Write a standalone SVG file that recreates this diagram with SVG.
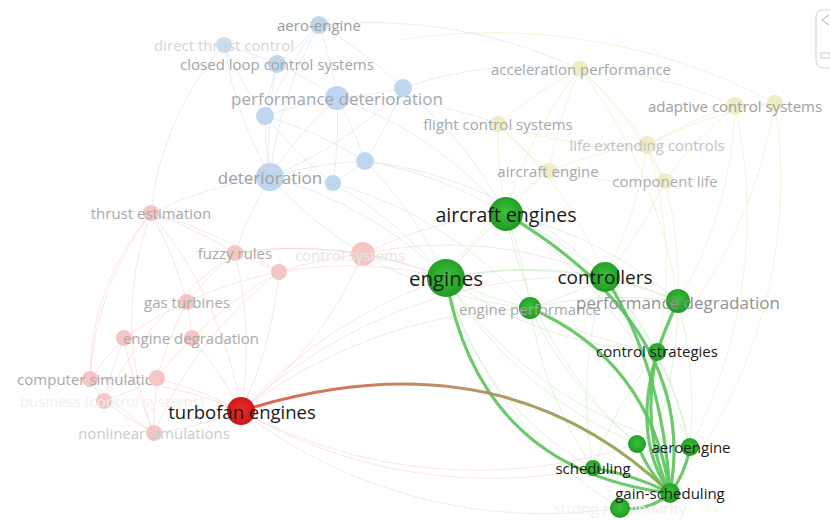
<svg xmlns="http://www.w3.org/2000/svg" width="830" height="520" viewBox="0 0 830 520">
<style>
text{font-family:"Open Sans","DejaVu Sans",sans-serif;font-size:15px;text-anchor:middle;dominant-baseline:central}
.e path{fill:none;stroke-width:1}
.eb path{stroke:#bcd4ec;opacity:.4}
.er path{stroke:#f2b4b4;opacity:.35}
.ey path{stroke:#e6e4a8;opacity:.45}
.eg path{stroke:#a6dc9c;opacity:.35}
.hl path{fill:none;stroke:#5cc45c;stroke-width:3.2;opacity:.9}
.nb{fill:#bfd6ee}
.nr{fill:#f5c6c6}
.ny{fill:#efedc4}
.ng{fill:url(#gg)}
.dk{fill:#1a1a1a}
</style>
<defs>
<radialGradient id="gg" cx="50%" cy="45%" r="55%">
<stop offset="0" stop-color="#3cc03c"/>
<stop offset="1" stop-color="#1f9a22"/>
</radialGradient>
<radialGradient id="rg" cx="50%" cy="45%" r="55%">
<stop offset="0" stop-color="#ee2a2a"/>
<stop offset="1" stop-color="#c81818"/>
</radialGradient>
<linearGradient id="tg" gradientUnits="userSpaceOnUse" x1="241" y1="411" x2="670" y2="493">
<stop offset="0" stop-color="#e05040"/>
<stop offset="0.5" stop-color="#b08a58"/>
<stop offset="1" stop-color="#7fa848"/>
</linearGradient>
</defs>
<rect width="830" height="520" fill="#ffffff"/>

<g id="connectors">
<g class="e eb">
<path d="M319 25 A400 400 0 0 1 277 64"/>
<path d="M319 25 A400 400 0 0 1 337 98"/>
<path d="M319 25 A400 400 0 0 0 265 116"/>
<path d="M319 25 A400 400 0 0 0 270 177"/>
<path d="M224 45 A400 400 0 0 1 277 64"/>
<path d="M224 45 A400 400 0 0 0 265 116"/>
<path d="M224 45 A400 400 0 0 0 270 177"/>
<path d="M277 64 A400 400 0 0 1 337 98"/>
<path d="M277 64 A400 400 0 0 0 270 177"/>
<path d="M337 98 A400 400 0 0 0 403 88"/>
<path d="M337 98 A400 400 0 0 0 265 116"/>
<path d="M337 98 A400 400 0 0 0 270 177"/>
<path d="M337 98 A400 400 0 0 1 365 161"/>
<path d="M337 98 A400 400 0 0 1 333 183"/>
<path d="M403 88 A400 400 0 0 1 365 161"/>
<path d="M403 88 A400 400 0 0 1 270 177"/>
<path d="M319 25 A400 400 0 0 1 403 88"/>
<path d="M277 64 A400 400 0 0 0 265 116"/>
<path d="M265 116 A400 400 0 0 0 270 177"/>
<path d="M265 116 A400 400 0 0 0 333 183"/>
<path d="M270 177 A400 400 0 0 1 365 161"/>
<path d="M270 177 A400 400 0 0 0 333 183"/>
<path d="M365 161 A400 400 0 0 1 333 183"/>
<path d="M270 177 A400 400 0 0 0 363 254"/>
<path d="M270 177 A400 400 0 0 0 235 253"/>
<path d="M270 177 A400 400 0 0 0 151 213"/>
<path d="M337 98 A400 400 0 0 1 506 214"/>
<path d="M403 88 A400 400 0 0 1 506 214"/>
<path d="M365 161 A400 400 0 0 1 446 278"/>
<path d="M270 177 A400 400 0 0 1 446 278"/>
<path d="M333 183 A400 400 0 0 1 446 278"/>
<path d="M337 98 A400 400 0 0 1 498 124"/>
<path d="M403 88 A400 400 0 0 1 580 69"/>
<path d="M224 45 A300 300 0 0 0 151 213"/>
<path d="M319 25 A500 500 0 0 1 580 69"/>
<path d="M365 161 A400 400 0 0 1 605 277"/>
<path d="M333 183 A400 400 0 0 1 530 308"/>
<path d="M265 116 A400 400 0 0 1 365 161"/>
</g>
<g class="e er">
<path d="M151 213 A400 400 0 0 1 235 253"/>
<path d="M151 213 A400 400 0 0 1 187 302"/>
<path d="M151 213 A300 300 0 0 0 90 379"/>
<path d="M151 213 A400 400 0 0 1 241 411"/>
<path d="M151 213 A400 400 0 0 1 279 272"/>
<path d="M151 213 A300 300 0 0 0 154 433"/>
<path d="M235 253 A400 400 0 0 1 279 272"/>
<path d="M235 253 A400 400 0 0 1 363 254"/>
<path d="M235 253 A400 400 0 0 0 187 302"/>
<path d="M235 253 A400 400 0 0 1 241 411"/>
<path d="M279 272 A400 400 0 0 1 363 254"/>
<path d="M279 272 A400 400 0 0 0 187 302"/>
<path d="M279 272 A400 400 0 0 0 192 338"/>
<path d="M279 272 A400 400 0 0 1 241 411"/>
<path d="M363 254 A400 400 0 0 1 241 411"/>
<path d="M363 254 A400 400 0 0 1 446 278"/>
<path d="M363 254 A400 400 0 0 1 506 214"/>
<path d="M363 254 A400 400 0 0 1 605 277"/>
<path d="M187 302 A400 400 0 0 1 192 338"/>
<path d="M187 302 A400 400 0 0 0 124 338"/>
<path d="M187 302 A400 400 0 0 0 157 378"/>
<path d="M124 338 A400 400 0 0 1 192 338"/>
<path d="M124 338 A400 400 0 0 0 90 379"/>
<path d="M124 338 A400 400 0 0 0 104 401"/>
<path d="M124 338 A400 400 0 0 0 154 433"/>
<path d="M192 338 A400 400 0 0 0 157 378"/>
<path d="M192 338 A400 400 0 0 1 241 411"/>
<path d="M90 379 A400 400 0 0 1 157 378"/>
<path d="M90 379 A400 400 0 0 0 104 401"/>
<path d="M90 379 A400 400 0 0 0 154 433"/>
<path d="M90 379 A400 400 0 0 1 241 411"/>
<path d="M157 378 A400 400 0 0 1 104 401"/>
<path d="M157 378 A400 400 0 0 1 241 411"/>
<path d="M157 378 A400 400 0 0 0 154 433"/>
<path d="M104 401 A400 400 0 0 0 154 433"/>
<path d="M154 433 A400 400 0 0 0 241 411"/>
<path d="M241 411 A500 500 0 0 1 446 278"/>
<path d="M241 411 A500 500 0 0 1 530 308"/>
<path d="M241 411 A500 500 0 0 0 593 468"/>
<path d="M241 411 A500 500 0 0 0 620 508"/>
<path d="M241 411 A500 500 0 0 1 605 277"/>
<path d="M235 253 A400 400 0 0 1 446 278"/>
<path d="M279 272 A400 400 0 0 1 446 278"/>
<path d="M241 411 A500 500 0 0 0 637 444"/>
<path d="M90 379 A250 250 0 0 1 151 213"/>
<path d="M104 401 A400 400 0 0 1 235 253"/>
<path d="M154 433 A400 400 0 0 1 279 272"/>
</g>
<g class="e ey">
<path d="M580 69 A400 400 0 0 0 498 124"/>
<path d="M580 69 A400 400 0 0 1 647 145"/>
<path d="M580 69 A400 400 0 0 0 549 171"/>
<path d="M580 69 A400 400 0 0 1 735 106"/>
<path d="M580 69 A400 400 0 0 1 665 181"/>
<path d="M735 106 A400 400 0 0 1 775 103"/>
<path d="M735 106 A400 400 0 0 0 647 145"/>
<path d="M735 106 A400 400 0 0 0 665 181"/>
<path d="M775 103 A400 400 0 0 0 647 145"/>
<path d="M498 124 A400 400 0 0 0 647 145"/>
<path d="M498 124 A400 400 0 0 0 549 171"/>
<path d="M647 145 A400 400 0 0 0 549 171"/>
<path d="M647 145 A400 400 0 0 1 665 181"/>
<path d="M549 171 A400 400 0 0 0 665 181"/>
<path d="M498 124 A400 400 0 0 0 506 214"/>
<path d="M549 171 A400 400 0 0 0 506 214"/>
<path d="M647 145 A400 400 0 0 1 605 277"/>
<path d="M665 181 A400 400 0 0 1 605 277"/>
<path d="M665 181 A400 400 0 0 1 678 301"/>
<path d="M735 106 A400 400 0 0 1 678 301"/>
<path d="M775 103 A500 500 0 0 1 670 493"/>
<path d="M647 145 A400 400 0 0 1 657 352"/>
<path d="M549 171 A400 400 0 0 0 446 278"/>
<path d="M580 69 A400 400 0 0 0 506 214"/>
<path d="M735 106 A500 500 0 0 1 690 447"/>
<path d="M580 69 A500 500 0 0 1 678 301"/>
<path d="M498 124 A400 400 0 0 1 605 277"/>
<path d="M775 103 A500 500 0 0 1 657 352"/>
<path d="M400 40 A600 600 0 0 1 775 103"/>
</g>
<g class="e eg">
<path d="M506 214 A400 400 0 0 0 446 278"/>
<path d="M506 214 A400 400 0 0 1 605 277"/>
<path d="M506 214 A400 400 0 0 1 530 308"/>
<path d="M446 278 A400 400 0 0 1 605 277"/>
<path d="M446 278 A400 400 0 0 0 530 308"/>
<path d="M605 277 A400 400 0 0 1 530 308"/>
<path d="M605 277 A400 400 0 0 1 678 301"/>
<path d="M530 308 A400 400 0 0 1 678 301"/>
<path d="M446 278 A400 400 0 0 1 678 301"/>
<path d="M678 301 A400 400 0 0 1 657 352"/>
<path d="M605 277 A400 400 0 0 1 657 352"/>
<path d="M530 308 A400 400 0 0 0 657 352"/>
<path d="M446 278 A400 400 0 0 0 657 352"/>
<path d="M506 214 A400 400 0 0 1 678 301"/>
<path d="M446 278 A400 400 0 0 0 690 447"/>
<path d="M605 277 A400 400 0 0 1 690 447"/>
<path d="M530 308 A400 400 0 0 0 593 468"/>
<path d="M657 352 A400 400 0 0 1 690 447"/>
<path d="M446 278 A400 400 0 0 0 620 508"/>
<path d="M530 308 A400 400 0 0 0 637 444"/>
<path d="M678 301 A400 400 0 0 1 690 447"/>
<path d="M506 214 A400 400 0 0 0 637 444"/>
<path d="M446 278 A400 400 0 0 0 637 444"/>
<path d="M605 277 A400 400 0 0 0 593 468"/>
<path d="M678 301 A400 400 0 0 1 620 508"/>
<path d="M506 214 A500 500 0 0 1 690 447"/>
<path d="M363 254 A400 400 0 0 0 530 308"/>
<path d="M365 161 A400 400 0 0 1 506 214"/>
<path d="M446 278 A300 300 0 0 0 593 468"/>
<path d="M657 352 A400 400 0 0 0 593 468"/>
</g>
<g class="hl">
<path d="M506 214 Q700 330 670 493"/>
<path d="M605 277 Q662 365 670 493"/>
<path d="M530 308 Q650 360 670 493"/>
<path d="M446 278 Q480 470 670 493"/>
<path d="M678 301 Q620 420 670 493"/>
<path d="M657 352 Q640 430 670 493"/>
<path d="M637 444 Q650 475 670 493"/>
<path d="M690 447 Q685 475 670 493"/>
<path d="M593 468 Q635 475 670 493"/>
<path d="M620 508 Q650 512 670 493"/>
</g>
<path d="M241 411 Q500 330 670 493" fill="none" stroke="url(#tg)" stroke-width="3" opacity="0.9"/>
</g>

<g id="n-direct-thrust-control"><circle class="nb" cx="224" cy="45" r="8" opacity=".8"/><text x="224" y="45" fill="#d4d4d4">direct thrust control</text></g>
<g id="n-aero-engine"><circle class="nb" cx="319" cy="25" r="9"/><text x="319" y="25" fill="#9c9c9c">aero-engine</text></g>
<g id="n-closed-loop"><circle class="nb" cx="277" cy="64" r="9"/><text x="277" y="64" fill="#a4a4a4">closed loop control systems</text></g>
<g id="n-performance-deterioration"><circle class="nb" cx="337" cy="98" r="12"/><text x="337" y="98" fill="#a4a8ac" style="font-size:17px">performance deterioration</text></g>
<g id="n-b5"><circle class="nb" cx="403" cy="88" r="9"/></g>
<g id="n-b6"><circle class="nb" cx="265" cy="116" r="9"/></g>
<g id="n-b8"><circle class="nb" cx="365" cy="161" r="9"/></g>
<g id="n-b9"><circle class="nb" cx="333" cy="183" r="8"/></g>
<g id="n-deterioration"><circle class="nb" cx="270" cy="177" r="14"/><text x="270" y="177" fill="#a0a0a0" style="font-size:17px">deterioration</text></g>

<g id="n-thrust-estimation"><circle class="nr" cx="151" cy="213" r="8"/><text x="151" y="213" fill="#a8a8a8">thrust estimation</text></g>
<g id="n-fuzzy-rules"><circle class="nr" cx="235" cy="253" r="8"/><text x="235" y="253" fill="#a8a8a8">fuzzy rules</text></g>
<g id="n-r3"><circle class="nr" cx="279" cy="272" r="8"/></g>
<g id="n-control-systems"><circle class="nr" cx="363" cy="254" r="12"/><text x="350" y="255" fill="#e6e6e6">control systems</text></g>
<g id="n-gas-turbines"><circle class="nr" cx="187" cy="302" r="8"/><text x="187" y="302" fill="#aaaaaa">gas turbines</text></g>
<g id="n-r6"><circle class="nr" cx="124" cy="338" r="8"/></g>
<g id="n-engine-degradation"><circle class="nr" cx="192" cy="338" r="8"/><text x="191" y="338" fill="#aaaaaa">engine degradation</text></g>
<g id="n-computer-simulation"><circle class="nr" cx="90" cy="379" r="8"/><text x="90" y="379" fill="#a8a8a8">computer simulation</text></g>
<g id="n-r9"><circle class="nr" cx="157" cy="378" r="8"/></g>
<g id="n-business"><circle class="nr" cx="104" cy="401" r="8"/><text x="112" y="401" fill="#f0f0f0">business (control systems)</text></g>
<g id="n-nonlinear-simulations"><circle class="nr" cx="154" cy="433" r="8"/><text x="154" y="433" fill="#cacaca">nonlinear simulations</text></g>

<g id="n-acceleration-performance"><circle class="ny" cx="580" cy="69" r="8"/><text x="581" y="69" fill="#a8a8a8">acceleration performance</text></g>
<g id="n-adaptive-control-systems"><circle class="ny" cx="735" cy="106" r="9"/><circle class="ny" cx="775" cy="103" r="8"/><text x="735" y="106" fill="#a0a0a0">adaptive control systems</text></g>
<g id="n-flight-control-systems"><circle class="ny" cx="498" cy="124" r="8"/><text x="498" y="124" fill="#a8a8a8">flight control systems</text></g>
<g id="n-life-extending-controls"><circle class="ny" cx="647" cy="145" r="9"/><text x="647" y="145" fill="#c2c2c2">life extending controls</text></g>
<g id="n-aircraft-engine"><circle class="ny" cx="549" cy="171" r="8"/><text x="548" y="171" fill="#a8a8a8">aircraft engine</text></g>
<g id="n-component-life"><circle class="ny" cx="665" cy="181" r="8"/><text x="665" y="181" fill="#adadad">component life</text></g>

<g id="n-strong-nonlinearity"><text x="620" y="508" fill="#f0f0f0">strong nonlinearity</text><circle class="ng" cx="620" cy="508" r="10"/></g>
<g id="n-engine-performance"><circle class="ng" cx="530" cy="308" r="11"/><text x="530" y="309" fill="#a8a8a8">engine performance</text></g>
<g id="n-performance-degradation"><circle class="ng" cx="678" cy="301" r="12"/><text x="678" y="302" fill="#929292" style="font-size:17px">performance degradation</text></g>
<g id="n-aircraft-engines"><circle class="ng" cx="506" cy="214" r="17"/><text class="dk" x="506" y="214" style="font-size:19.5px">aircraft engines</text></g>
<g id="n-engines"><circle class="ng" cx="446" cy="278" r="19"/><text class="dk" x="446" y="278" style="font-size:20.5px">engines</text></g>
<g id="n-controllers"><circle class="ng" cx="605" cy="277" r="15"/><text class="dk" x="605" y="277" style="font-size:19px">controllers</text></g>
<g id="n-control-strategies"><circle class="ng" cx="657" cy="352" r="9"/><text class="dk" x="657" y="351">control strategies</text></g>
<g id="n-g7"><circle class="ng" cx="637" cy="444" r="9"/></g>
<g id="n-aeroengine"><circle class="ng" cx="690" cy="447" r="9"/><text class="dk" x="691" y="447">aeroengine</text></g>
<g id="n-scheduling"><circle class="ng" cx="593" cy="468" r="8"/><text class="dk" x="593" y="468">scheduling</text></g>
<g id="n-gain-scheduling"><circle class="ng" cx="670" cy="493" r="10"/><text class="dk" x="670" y="493">gain-scheduling</text></g>
<g id="n-turbofan-engines"><circle cx="241" cy="411" r="14" fill="url(#rg)"/><text class="dk" x="242" y="411" style="font-size:18.5px">turbofan engines</text></g>

<g id="widget" fill="none" stroke="#d8d8d8" stroke-width="1.2">
<path d="M832 10 H823 Q816 10 816 17 V60 Q816 68 824 68 H832"/>
<polyline points="829,15 822,20 829,25" stroke="#c8c8c8"/>
<rect x="821" y="53" width="9" height="5" stroke="#d0d0d0"/>
</g>
</svg>
